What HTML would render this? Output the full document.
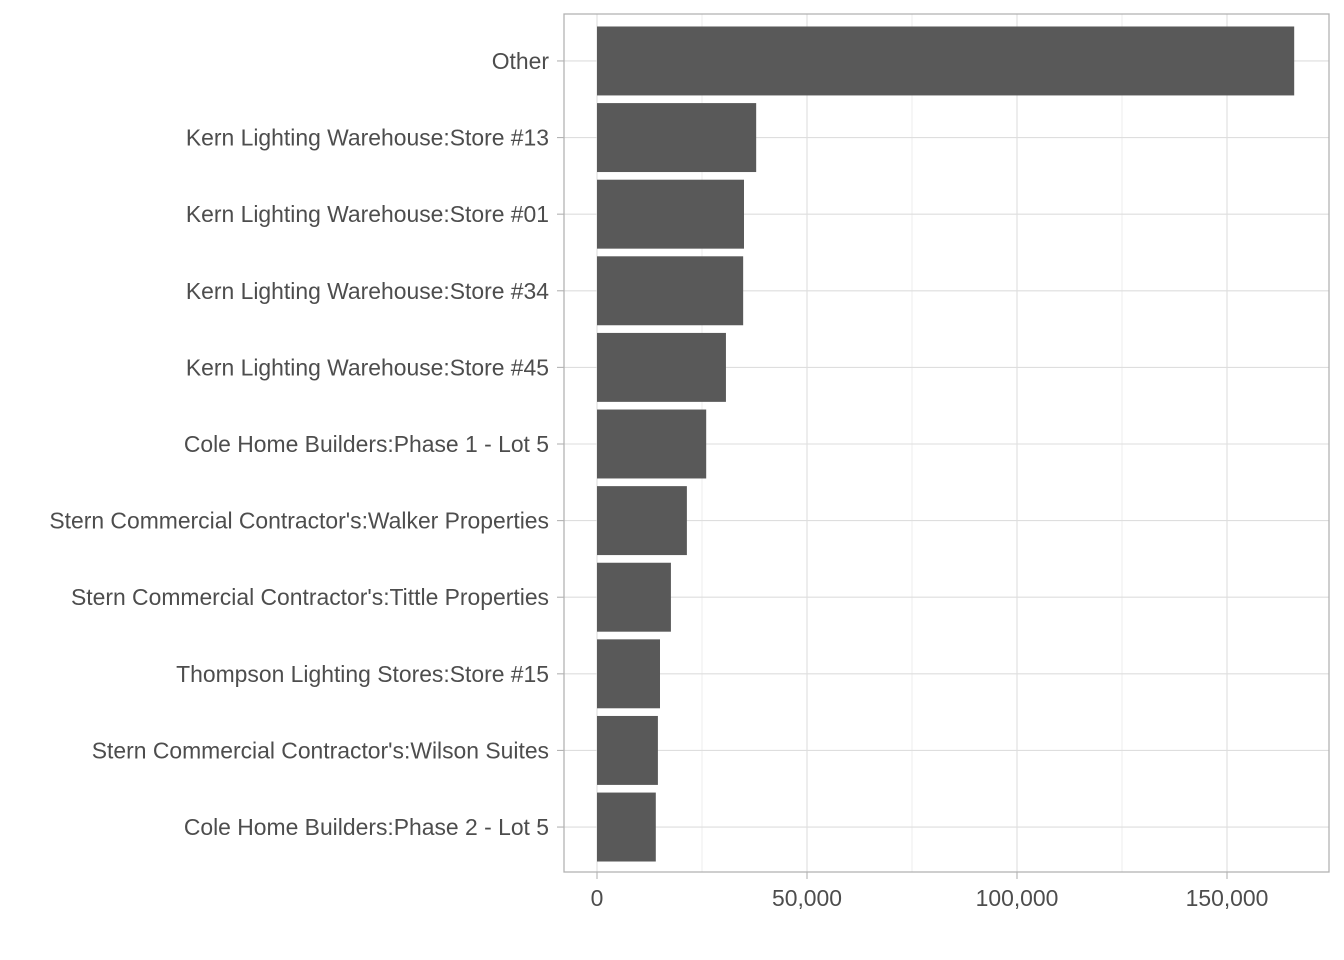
<!DOCTYPE html>
<html><head><meta charset="utf-8">
<style>
html,body{margin:0;padding:0;background:#fff;}
svg{display:block;font-family:"Liberation Sans",Arial,sans-serif;}
</style></head>
<body>
<svg id="chart" width="1344" height="960"></svg>
<script>
const categories = ["Other","Kern Lighting Warehouse:Store #13","Kern Lighting Warehouse:Store #01","Kern Lighting Warehouse:Store #34","Kern Lighting Warehouse:Store #45","Cole Home Builders:Phase 1 - Lot 5","Stern Commercial Contractor's:Walker Properties","Stern Commercial Contractor's:Tittle Properties","Thompson Lighting Stores:Store #15","Stern Commercial Contractor's:Wilson Suites","Cole Home Builders:Phase 2 - Lot 5"];
const values = [166000,37900,35000,34800,30700,26000,21400,17600,15000,14500,14000];
const xTicks = [0,50000,100000,150000];
const xMinor = [25000,75000,125000];
const xTickLabels = ["0","50,000","100,000","150,000"];

const NS="http://www.w3.org/2000/svg";
const svg=document.getElementById('chart');
const P={l:564,r:1329,t:14,b:872};
const x0=597, pxPer=210/50000;
const xs=v=>x0+v*pxPer;
const band=(P.b-P.t)/(categories.length-1+1.2);
const ys=i=>P.t+1+band*(0.6+i);
function mk(t,a){const e=document.createElementNS(NS,t);for(const k in a)e.setAttribute(k,a[k]);svg.appendChild(e);return e;}

xMinor.forEach(v=>{const l=mk('line',{x1:xs(v),x2:xs(v),y1:P.t,y2:P.b,stroke:'#ececec','stroke-width':1});

});
xTicks.forEach(v=>{const l=mk('line',{x1:xs(v),x2:xs(v),y1:P.t,y2:P.b,stroke:'#dedede','stroke-width':1.1});

});
categories.forEach((c,i)=>{const l=mk('line',{x1:P.l,x2:P.r,y1:ys(i),y2:ys(i),stroke:'#dedede','stroke-width':1.1});

});

categories.forEach((c,i)=>{
  const h=band*0.9;
  const r=mk('rect',{x:xs(0),y:ys(i)-h/2,width:xs(values[i])-xs(0),height:h,fill:'#595959'});
  
  
  const tk=mk('line',{x1:P.l-7,x2:P.l,y1:ys(i),y2:ys(i),stroke:'#b3b3b3','stroke-width':1.1});
  
  
  const t=mk('text',{x:P.l-15,y:ys(i)+8,'text-anchor':'end','font-size':'22.9',fill:'#4d4d4d'});
  t.textContent=c;
  
  
});
xTicks.forEach((v,i)=>{
  const tk=mk('line',{x1:xs(v),x2:xs(v),y1:P.b,y2:P.b+7,stroke:'#b3b3b3','stroke-width':1.1});
  
  
  const t=mk('text',{x:xs(v),y:P.b+34,'text-anchor':'middle','font-size':'22.9',fill:'#4d4d4d'});
  t.textContent=xTickLabels[i];
  
  
});
const b=mk('rect',{x:P.l,y:P.t,width:P.r-P.l,height:P.b-P.t,fill:'none',stroke:'#b3b3b3','stroke-width':1.3});


</script>
</body></html>
